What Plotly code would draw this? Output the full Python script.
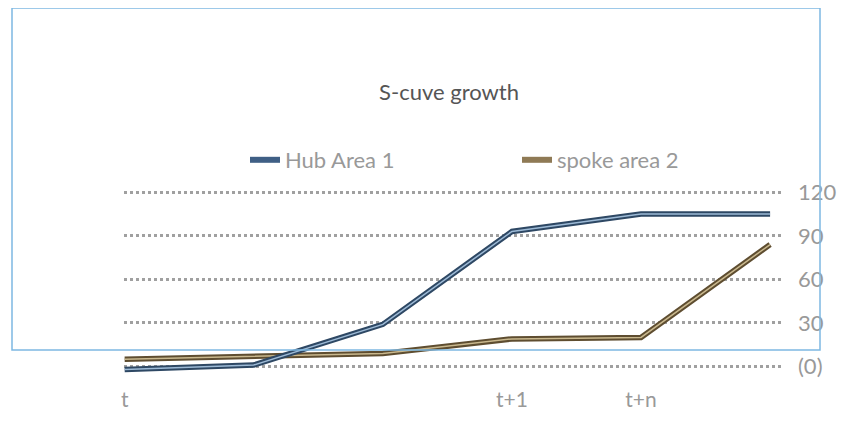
import plotly.graph_objects as go

# ---- data ----
x_index = [0, 1, 2, 3, 4, 5]
tick_positions = [0, 3, 4]
tick_labels = ["t", "t+1", "t+n"]
hub_area_1 = [-2, 1, 29, 93, 105, 105]
spoke_area_2 = [5, 7, 9, 19, 20, 84]
y_tickvals = [0, 30, 60, 90, 120]
y_ticktext = ["(0)", "30", "60", "90", "120"]

FONT = "Lato"
OFF = 8  # page body margin offset
L, R = 124 - OFF, 72 + OFF
T, B = 185 - OFF, 42 + OFF
PW = 855 - L - R
PH = 423 - T - B
fig = go.Figure()

# ribbon look: dark outer line + light inner highlight
fig.add_trace(go.Scatter(x=x_index, y=spoke_area_2, mode="lines", name="spoke area 2",
                         line=dict(color="#5e4d30", width=5.5), cliponaxis=False, showlegend=False))
fig.add_trace(go.Scatter(x=x_index, y=spoke_area_2, mode="lines", name="spoke area 2",
                         line=dict(color="#c9b88e", width=1.5), cliponaxis=False, showlegend=False))
fig.add_trace(go.Scatter(x=x_index, y=hub_area_1, mode="lines", name="Hub Area 1",
                         line=dict(color="#2e4864", width=5.5), cliponaxis=False, showlegend=False))
fig.add_trace(go.Scatter(x=x_index, y=hub_area_1, mode="lines", name="Hub Area 1",
                         line=dict(color="#9dbad6", width=1.5), cliponaxis=False, showlegend=False))

# legend entries
fig.add_trace(go.Scatter(x=[None], y=[None], mode="lines", name="Hub Area 1",
                         line=dict(color="#3f5f85", width=6)))
fig.add_trace(go.Scatter(x=[None], y=[None], mode="lines", name="spoke area 2",
                         line=dict(color="#8f7a55", width=6)))

fig.update_layout(
    width=855, height=423,
    margin=dict(l=L, r=R, t=T, b=B, autoexpand=False),
    paper_bgcolor="white", plot_bgcolor="white",
    font=dict(family=FONT, color="#999999", size=20),
    title=dict(text="S-cuve growth", x=(449 - OFF) / 855, xanchor="center",
               y=1 - (92 - OFF) / 423, yanchor="middle",
               font=dict(family=FONT, size=22, color="#555555")),
    showlegend=True,
    legend=dict(orientation="h", xref="container", x=(245 - OFF) / 855, xanchor="left",
                yref="container", y=1 - (160 - OFF) / 423, yanchor="middle",
                entrywidth=227, entrywidthmode="pixels",
                font=dict(family=FONT, size=22, color="#999999"),
                bgcolor="rgba(0,0,0,0)"),
    xaxis=dict(range=[-0.005, 5.1], tickvals=tick_positions, ticktext=tick_labels,
               showgrid=False, zeroline=False, showline=False, automargin=False,
               ticks="", ticklabelstandoff=4,
               tickfont=dict(family=FONT, size=21, color="#999999")),
    yaxis=dict(range=[-10, 125], tickvals=y_tickvals, ticktext=y_ticktext, side="right",
               showgrid=True, gridcolor="#a0a0a0", gridwidth=2.5, griddash="dot",
               zeroline=False, showline=False, ticks="", ticklabelstandoff=14, automargin=False,
               tickfont=dict(family=FONT, size=22, color="#999999")),
    shapes=[dict(type="rect", xref="paper", yref="paper",
                 x0=(12 - OFF - L) / PW, x1=(820 - OFF - L) / PW,
                 y0=(423 - B - (350 - OFF)) / PH, y1=(423 - B - (8 - OFF)) / PH,
                 line=dict(color="#7db8e2", width=1.5), layer="above")],
)

fig.write_html("out.html")
